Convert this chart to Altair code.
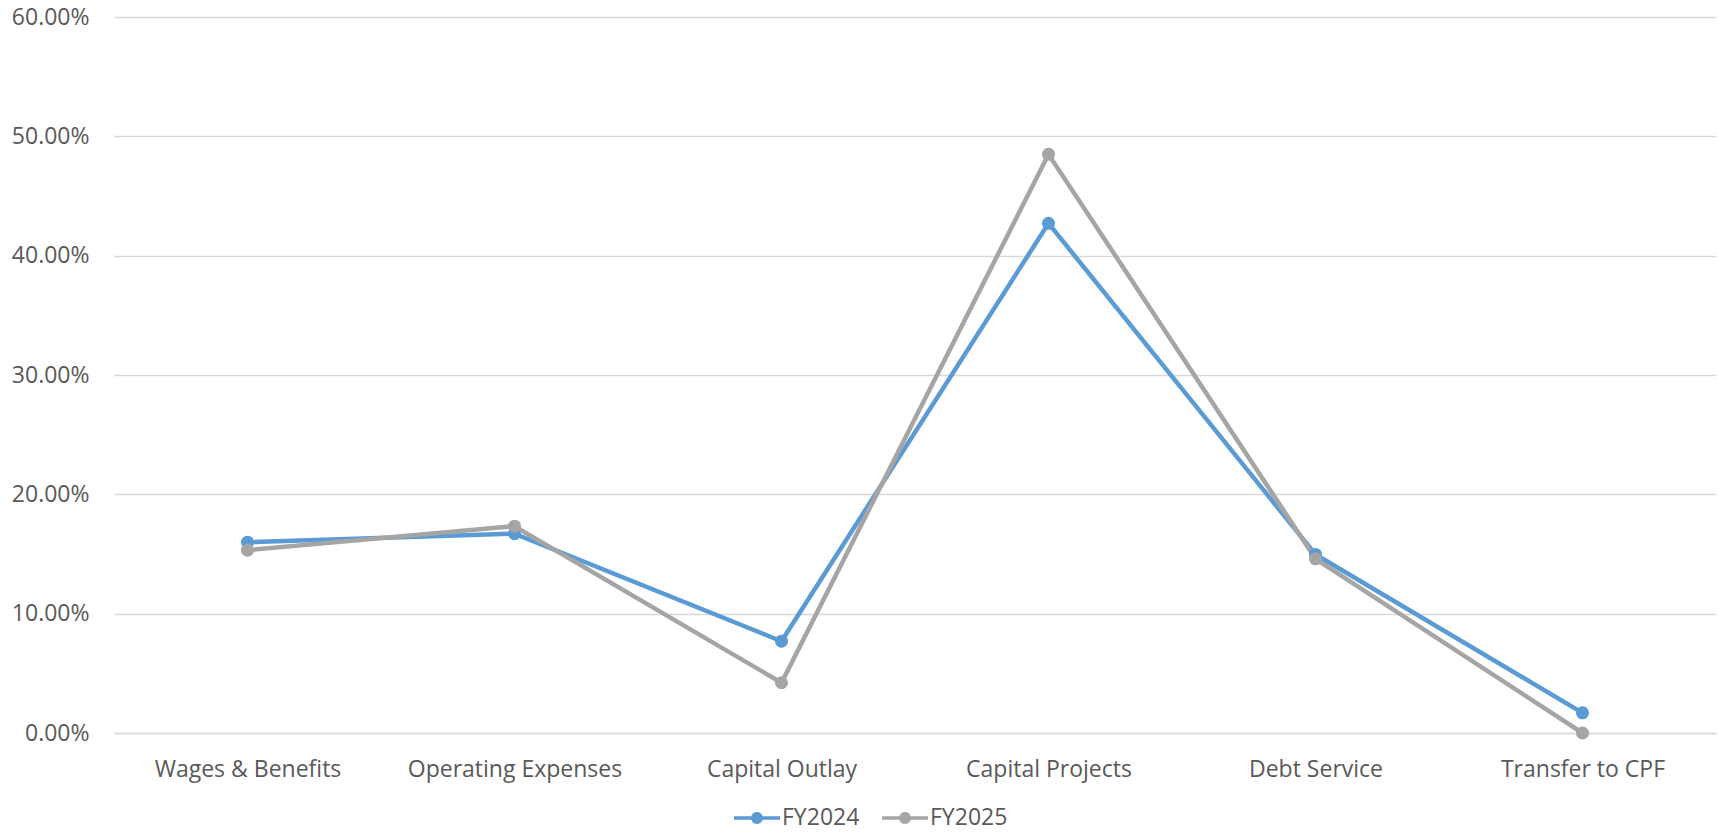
import altair as alt
import pandas as pd

categories = [
    "Wages & Benefits",
    "Operating Expenses",
    "Capital Outlay",
    "Capital Projects",
    "Debt Service",
    "Transfer to CPF",
]
series_names = ["FY2024", "FY2025"]
fy2024 = [0.1599, 0.1670, 0.0769, 0.4271, 0.1496, 0.0169]
fy2025 = [0.1532, 0.1733, 0.0421, 0.4849, 0.1460, 0.0000]
y_ticks = [0.0, 0.1, 0.2, 0.3, 0.4, 0.5, 0.6]
colors = ["#5B9BD5", "#A5A5A5"]

rows = []
for name, vals in zip(series_names, [fy2024, fy2025]):
    for cat, v in zip(categories, vals):
        rows.append({"category": cat, "series": name, "share": v})
df = pd.DataFrame(rows)

FONT = "Open Sans"
TEXT = "#595959"

# legend glyph: a thin bar with a dot in the middle (filled shape)
legend_path = (
    "M -1 -0.075 L 1 -0.075 L 1 0.075 L -1 0.075 Z "
    "M -0.26 0 A 0.26 0.26 0 1 1 0.26 0 A 0.26 0.26 0 1 1 -0.26 0 Z"
)

x_enc = alt.X(
    "category:N",
    sort=categories,
    scale=alt.Scale(type="point", padding=0.5),
    axis=alt.Axis(
        title=None,
        labelAngle=0,
        labelFont=FONT,
        labelFontSize=23,
        labelColor=TEXT,
        labelPadding=25,
        labelLimit=0,
        ticks=False,
        domain=True,
        domainColor="#D9D9D9",
        domainWidth=1.5,
        grid=False,
    ),
)
y_enc = alt.Y(
    "share:Q",
    scale=alt.Scale(domain=[0, 0.6], nice=False),
    axis=alt.Axis(
        title=None,
        values=y_ticks,
        format=".2%",
        labelFont=FONT,
        labelFontSize=23,
        labelColor=TEXT,
        labelPadding=25,
        ticks=False,
        domain=False,
        grid=True,
        gridColor="#D9D9D9",
        gridWidth=1.5,
    ),
)
color_scale = alt.Scale(domain=series_names, range=colors)

base = alt.Chart(df)

lines = base.mark_line(strokeWidth=4.5).encode(
    x=x_enc,
    y=y_enc,
    color=alt.Color("series:N", scale=color_scale, legend=None),
)

points = base.mark_point(filled=True, size=170, opacity=1).encode(
    x=x_enc,
    y=y_enc,
    color=alt.Color(
        "series:N",
        scale=color_scale,
        legend=alt.Legend(
            title=None,
            orient="none",
            direction="horizontal",
            legendX=620,
            legendY=778,
            symbolType=legend_path,
            symbolSize=2116,
            symbolStrokeWidth=0,
            symbolOpacity=1,
            labelFont=FONT,
            labelFontSize=23,
            labelColor=TEXT,
            labelOffset=2,
            columnPadding=22,
        ),
    ),
)

chart = (
    alt.layer(lines, points)
    .resolve_scale(color="independent")
    .properties(
        width=1602,
        height=716,
        autosize=alt.AutoSizeParams(type="none"),
        padding={"left": 114, "top": 17, "right": 2, "bottom": 101},
    )
    .configure(background="white")
    .configure_view(strokeWidth=0, stroke="transparent")
)

chart.save("out.html", embed_options={"renderer": "svg", "actions": False})
